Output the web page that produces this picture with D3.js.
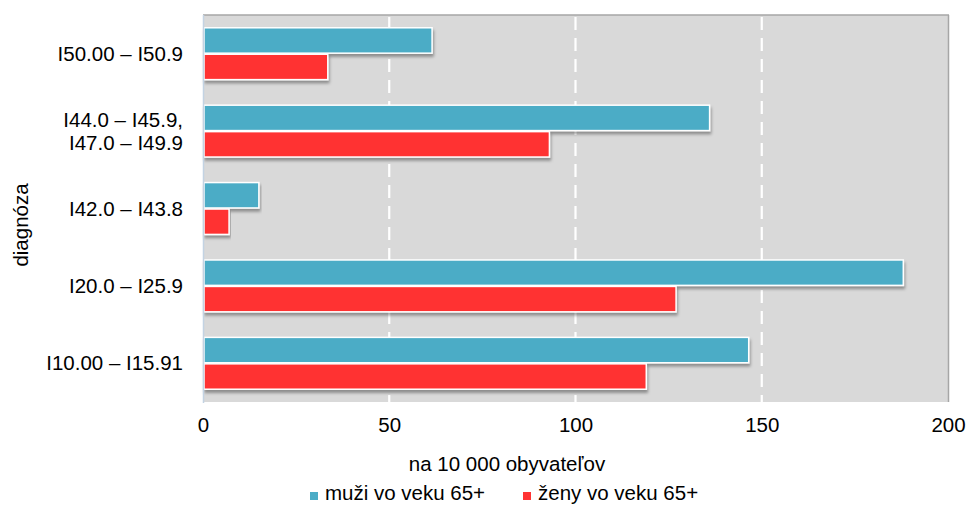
<!DOCTYPE html>
<html><head><meta charset="utf-8">
<script src="https://cdn.jsdelivr.net/npm/d3@7"></script>
<style>body{margin:0;background:#fff;font-family:Arial,"Liberation Sans",sans-serif;} text{font-family:Arial,"Liberation Sans",sans-serif;}</style>
</head><body><svg id="c" width="967" height="507"></svg>
<script>
const categories = ["I50.00 – I50.9", "I44.0 – I45.9,\nI47.0 – I49.9", "I42.0 – I43.8", "I20.0 – I25.9", "I10.00 – I15.91"];
const seriesNames = ["muži vo veku 65+", "ženy vo veku 65+"];
const muzi = [61.5, 136, 15, 188, 146.5];
const zeny = [33.5, 93, 7, 127, 119];
const xTicks = [0, 50, 100, 150, 200];
const colors = ["#4bacc6", "#ff3333"];

const FS = 20.5;
const svg = d3.select("#c");
const m = {l:203, r:948, t:15, b:402};
const x = d3.scaleLinear().domain([0,200]).range([m.l, m.r]);
const y = d3.scaleBand().domain(categories).range([m.t, m.b]).paddingInner(0.33).paddingOuter(0.165);
const ys = d3.scaleBand().domain([0,1]).range([0, y.bandwidth()]).paddingInner(0.04);

const defs = svg.append("defs");
const f = defs.append("filter").attr("id","sh").attr("x","-5%").attr("y","-30%").attr("width","110%").attr("height","180%");
f.append("feDropShadow").attr("dx",1).attr("dy",3).attr("stdDeviation",1.5).attr("flood-color","#000").attr("flood-opacity",0.35);

svg.append("rect").attr("x",m.l).attr("y",m.t).attr("width",m.r-m.l).attr("height",m.b-m.t).attr("fill","#d9d9d9");
svg.append("line").attr("x1",m.l).attr("x2",m.r+1).attr("y1",m.t).attr("y2",m.t).attr("stroke","#a6a6a6").attr("stroke-width",1.5);
svg.append("line").attr("x1",m.r+0.5).attr("x2",m.r+0.5).attr("y1",m.t).attr("y2",m.b).attr("stroke","#a6a6a6").attr("stroke-width",1.5);

svg.append("g").selectAll("line").data(xTicks.filter(d=>d>0 && d<200)).join("line")
  .attr("x1",d=>x(d)).attr("x2",d=>x(d)).attr("y1",m.t+2).attr("y2",m.b)
  .attr("stroke","#fff").attr("stroke-width",2.2).attr("stroke-dasharray","13,8");

const data = categories.map((c,i)=>({c, v:[muzi[i], zeny[i]]}));
const g = svg.append("g");
data.forEach(d=>{
  d.v.forEach((v,k)=>{
    g.append("rect").attr("x",x(0)+1).attr("y",y(d.c)+ys(k))
      .attr("width",x(v)-x(0)-1).attr("height",ys.bandwidth())
      .attr("fill",colors[k]).attr("stroke","#fff").attr("stroke-width",1.5)
      .attr("filter","url(#sh)");
  });
});
svg.append("line").attr("x1",m.l+0.5).attr("x2",m.l+0.5).attr("y1",m.t).attr("y2",m.b+1).attr("stroke","#c3d3e3").attr("stroke-width",1.5);

const xa = d3.axisBottom(x).tickValues(xTicks).tickSize(0).tickPadding(15);
const gx = svg.append("g").attr("transform",`translate(0,${m.b})`).call(xa);
gx.select(".domain").remove();
gx.attr("font-size",FS).attr("font-family","Arial, 'Liberation Sans', sans-serif");
gx.selectAll("text").attr("font-size",FS).attr("fill","#000");

const gy = svg.append("g");
categories.forEach(c=>{
  const lines = c.split("\n");
  const cy = y(c)+y.bandwidth()/2;
  const t = gy.append("text").attr("x",183).attr("text-anchor","end").attr("font-size",FS).attr("fill","#000");
  lines.forEach((l,i)=>{
    t.append("tspan").attr("x",183).attr("y",cy + (i-(lines.length-1)/2)*23 + 7).text(l);
  });
});

svg.append("text").attr("x",507).attr("y",471).attr("text-anchor","middle").attr("font-size",FS).text("na 10 000 obyvateľov");
svg.append("text").attr("transform","translate(28,225) rotate(-90)").attr("text-anchor","middle").attr("font-size",FS).text("diagnóza");

const leg = svg.append("g");
const lx = [310, 523];
seriesNames.forEach((n,i)=>{
  leg.append("rect").attr("x",lx[i]).attr("y",492).attr("width",8).attr("height",8).attr("fill",colors[i]);
  leg.append("text").attr("x",lx[i]+15).attr("y",500).attr("font-size",FS).text(n);
});
</script></body></html>
